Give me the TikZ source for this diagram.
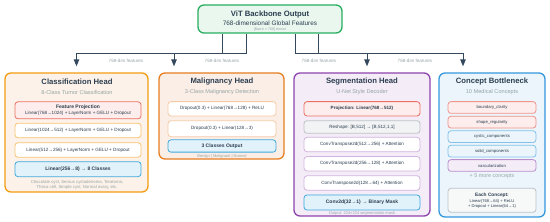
\documentclass[tikz,border=0pt]{standalone}
\usepackage{fontspec}
\setmainfont{Liberation Sans}
\usepackage{tikz}
\usetikzlibrary{arrows.meta}
\definecolor{ink}{HTML}{2C3E50}
\definecolor{subg}{HTML}{95A5A6}
\definecolor{wire}{HTML}{34495E}
\definecolor{topb}{HTML}{27AE60}\definecolor{topf}{HTML}{E9F7EF}
\definecolor{clsb}{HTML}{F39C12}\definecolor{clsf}{HTML}{FDF2E9}
\definecolor{malb}{HTML}{E67E22}\definecolor{malf}{HTML}{FBEEE6}
\definecolor{segb}{HTML}{8E44AD}\definecolor{segf}{HTML}{F4ECF7}
\definecolor{conb}{HTML}{3498DB}\definecolor{conf}{HTML}{EBF5FB}
\definecolor{redb}{HTML}{EC7063}\definecolor{redf}{HTML}{FDEDEC}
\definecolor{orgb}{HTML}{F8C471}\definecolor{pchb}{HTML}{F5CBA7}
\definecolor{blub}{HTML}{3FA9E0}\definecolor{bluf}{HTML}{E1F2FB}
\definecolor{gryb}{HTML}{BDC3C7}\definecolor{gryf}{HTML}{F2F3F4}
\definecolor{purb}{HTML}{D2B4DE}
\definecolor{cpkb}{HTML}{F1948A}\definecolor{cbub}{HTML}{85C1E9}
\definecolor{cpub}{HTML}{BB8FCE}
\tikzset{
  head/.style={draw, rounded corners=6pt, line width=1.3pt},
  lyr/.style={draw, rounded corners=3pt, line width=0.8pt, fill=white, inner sep=0pt, align=center},
  ttl/.style={font=\fontsize{7.7}{9}\selectfont\bfseries, text=ink},
  sub/.style={font=\fontsize{5.6}{7}\selectfont, text=subg},
  note/.style={font=\fontsize{4.3}{5.4}\selectfont, text=subg, align=center},
  conn/.style={draw=wire, line width=1pt, shorten >=6pt, -{Triangle[length=7pt,width=5.5pt]}}
}

\begin{document}
\begin{tikzpicture}[x=1pt, y=-1pt, every node/.style={font=\fontsize{4.6}{5.5}\selectfont, text=ink}]
  \useasboundingbox (0,0) rectangle (550,222);
  % backbone
  \node[head, draw=topb, fill=topf, minimum width=144pt, minimum height=28pt] (top) at (270,19) {};
  \node[ttl] (topT) at (270,14.5) {ViT Backbone Output};
  \node[font=\fontsize{6.4}{7}\selectfont] (topS) at (270,23.5) {768-dimensional Global Features};
  \node[font=\fontsize{3.6}{4}\selectfont, text=subg] (topN) at (270,29.5) {[Batch × 768] tensor};
  % heads
  \node[head, draw=clsb, fill=clsf, minimum width=143pt, minimum height=119pt] (cls) at (76.5,132.5) {};
  \node[head, draw=malb, fill=malf, minimum width=125pt, minimum height=86pt] (mal) at (221.5,116) {};
  \node[head, draw=segb, fill=segf, minimum width=136pt, minimum height=143pt] (seg) at (362,144.5) {};
  \node[head, draw=conb, fill=conf, minimum width=106pt, minimum height=144pt] (con) at (492,145) {};
  % wires
  \draw[conn] ([xshift=-48pt]top.south) -- ++(0,20) -| (cls.north);
  \draw[conn] ([xshift=-24pt]top.south) -- ++(0,20) -| ([xshift=-47.5pt]mal.north);
  \draw[conn] ([xshift=25pt]top.south) -- ++(0,20) -| ([xshift=5pt]seg.north);
  \draw[conn] ([xshift=48pt]top.south) -- ++(0,20) -| ([xshift=-29pt]con.north);
  \foreach \x [count=\i] in {126,222,319,415}
    \node[note, font=\fontsize{4.6}{5}\selectfont] (dim\i) at (\x,61) {768-dim features};
  % classification
  \node[ttl] (clsT) at (77,82) {Classification Head};
  \node[sub] (clsS) at (77,92) {8-Class Tumor Classification};
  \node[lyr, draw=redb, fill=redf, minimum width=126pt, minimum height=17pt] (cls1) at (78,110.3)
    {{\fontsize{5}{5.5}\selectfont\bfseries Feature Projection}\\Linear(768→1024) + LayerNorm + GELU + Dropout};
  \node[lyr, draw=orgb, minimum width=126pt, minimum height=14.5pt] (cls2) at (78,130.5) {Linear(1024→512) + LayerNorm + GELU + Dropout};
  \node[lyr, draw=orgb, minimum width=126pt, minimum height=14.5pt] (cls3) at (78,150) {Linear(512→256) + LayerNorm + GELU + Dropout};
  \node[lyr, draw=blub, fill=bluf, minimum width=126pt, minimum height=15pt, font=\fontsize{5}{6}\selectfont\bfseries] (cls4) at (78,169.2) {Linear(256→8) → 8 Classes};
  \node[note] (clsN) at (77,185) {Chocolate cyst, Serous cystadenoma, Teratoma,\\Theca cell, Simple cyst, Normal ovary, etc.};
  % malignancy
  \node[ttl] (malT) at (222,82) {Malignancy Head};
  \node[sub] (malS) at (222,92) {3-Class Malignancy Detection};
  \node[lyr, draw=pchb, minimum width=108pt, minimum height=14.3pt] (mal1) at (222,108.8) {Dropout(0.3) + Linear(768→128) + ReLU};
  \node[lyr, draw=pchb, minimum width=108pt, minimum height=16pt] (mal2) at (222,128.7) {Dropout(0.3) + Linear(128→3)};
  \node[lyr, draw=blub, fill=bluf, minimum width=108pt, minimum height=12.3pt, font=\fontsize{5}{6}\selectfont\bfseries] (mal3) at (222,146) {3 Classes Output};
  \node[note, font=\fontsize{4}{5}\selectfont] (malN) at (222,156) {Benign | Malignant | Normal};
  % segmentation
  \node[ttl] (segT) at (362,82) {Segmentation Head};
  \node[sub] (segS) at (362,92) {U-Net Style Decoder};
  \node[lyr, draw=redb, fill=redf, minimum width=116pt, minimum height=14.3pt, font=\fontsize{4.6}{5.5}\selectfont\bfseries] (seg1) at (362,108.8) {Projection: Linear(768→512)};
  \node[lyr, draw=gryb, fill=gryf, minimum width=116pt, minimum height=12.6pt] (seg2) at (362,127) {Reshape: [B,512] → [B,512,1,1]};
  \node[lyr, draw=purb, minimum width=116pt, minimum height=14.4pt] (seg3) at (362,144.5) {ConvTranspose2d(512→256) + Attention};
  \node[lyr, draw=purb, minimum width=116pt, minimum height=14.4pt] (seg4) at (362,163.8) {ConvTranspose2d(256→128) + Attention};
  \node[lyr, draw=purb, minimum width=116pt, minimum height=14.4pt] (seg5) at (362,183) {ConvTranspose2d(128→64) + Attention};
  \node[lyr, draw=blub, fill=bluf, minimum width=116pt, minimum height=15pt, font=\fontsize{5}{6}\selectfont\bfseries] (seg6) at (362,202.5) {Conv2d(32→1) → Binary Mask};
  \node[note, font=\fontsize{4}{5}\selectfont] (segN) at (362,213.3) {Output: 224×224 segmentation mask};
  % concepts
  \node[ttl] (conT) at (492,82) {Concept Bottleneck};
  \node[sub] (conS) at (492,92) {10 Medical Concepts};
  \foreach \n/\y/\b/\f in {boundary\_clarity/107.5/cpkb/redf, shape\_regularity/122.2/cpkb/redf,
      cystic\_components/136.7/cbub/conf, solid\_components/151.2/cbub/conf, vascularization/165.5/cpub/segf}
    \node[lyr, draw=\b, fill=\f, minimum width=88pt, minimum height=11.7pt, font=\fontsize{4.2}{5}\selectfont] (c\y) at (492,\y) {\n};
  \node[sub, font=\fontsize{5.4}{6}\selectfont] (conM) at (492,176.7) {+ 5 more concepts};
  \node[lyr, draw=gryb, fill=gryf!60, minimum width=88pt, minimum height=24pt, font=\fontsize{4.1}{5}\selectfont] (conE) at (492,200.3)
    {{\fontsize{4.8}{6}\selectfont\bfseries Each Concept:}\\[1pt]Linear(768→64) + ReLU\\+ Dropout + Linear(64→1)};
\end{tikzpicture}
\end{document}
